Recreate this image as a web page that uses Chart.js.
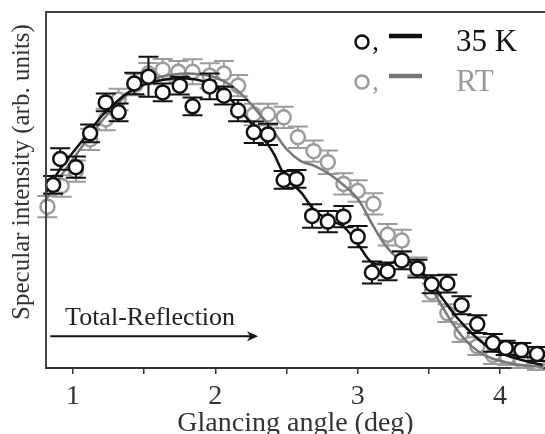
<!DOCTYPE html>
<html>
<head>
<meta charset="utf-8">
<script src="https://cdn.jsdelivr.net/npm/chart.js@4"></script>
<style>
  body { margin: 0; background: #fff; overflow: hidden; }
  #wrap { width: 545px; height: 434px; }
  canvas { display: block; }
</style>
</head>
<body>
<div id="wrap"><canvas id="chart" width="545" height="434"></canvas></div>
<script>
// measured points, 35 K
const coldAngle = [0.86, 0.91, 1.02, 1.12, 1.23, 1.32, 1.43, 1.53, 1.63, 1.75, 1.84, 1.96, 2.06, 2.16, 2.27, 2.37, 2.48,
    2.57, 2.68, 2.79, 2.90, 3.00, 3.10, 3.21, 3.31, 3.42, 3.52, 3.63, 3.73, 3.84, 3.95, 4.04, 4.15, 4.26];
const coldIntensity = [51.4, 58.7, 56.4, 65.9, 74.6, 71.8, 79.9, 81.8, 77.4, 79.3, 73.5, 79.1, 76.5, 72.3, 66.2, 65.6, 52.8,
    53.1, 42.7, 41.1, 42.5, 36.9, 26.8, 27.1, 30.2, 27.9, 23.5, 23.7, 17.6, 12.3, 7.0, 5.6, 5.0, 3.9];
const coldError = [2.5, 3, 3, 2.5, 2.5, 2.5, 3, 5.6, 2.5, 2.5, 2.5, 3.6, 2.5, 3, 3, 3, 2.5,
    2.5, 3.3, 3, 3, 3, 3.1, 2.5, 2.5, 2.5, 2.5, 2.5, 2.5, 2.5, 2.5, 2, 2, 2];

// measured points, RT
const rtAngle = [0.82, 0.92, 1.02, 1.12, 1.23, 1.32, 1.44, 1.53, 1.63, 1.74, 1.84, 1.96, 2.06, 2.16, 2.27, 2.37, 2.48,
    2.58, 2.69, 2.79, 2.90, 3.00, 3.11, 3.21, 3.31, 3.42, 3.52, 3.63, 3.73, 3.84, 3.95, 4.05, 4.15, 4.26];
const rtIntensity = [45.3, 51.1, 55.3, 64.2, 69.8, 75.4, 79.6, 82.7, 83.8, 83.2, 83.2, 82.1, 82.7, 79.3, 71.2, 71.2, 70.4,
    64.8, 60.9, 57.8, 51.7, 49.7, 46.1, 37.4, 35.8, 28.5, 21.2, 15.4, 9.8, 6.1, 3.6, 2.8, 2.0, 1.4];
const rtError = [3, 3, 3, 3, 3, 3, 3, 3, 3, 3, 3.5, 3.5, 3.5, 3, 3, 3, 3,
    3, 3, 3.3, 3, 3, 3, 3, 3, 2.5, 2.5, 2.5, 2.5, 2.5, 2.5, 2, 2, 2];

// fitted curves
const fitAngle = [0.8, 0.9, 1.0, 1.1, 1.2, 1.3, 1.4, 1.5, 1.6, 1.7, 1.8, 1.9, 2.0, 2.1, 2.2, 2.3, 2.4, 2.5,
    2.6, 2.7, 2.8, 2.9, 3.0, 3.1, 3.2, 3.3, 3.4, 3.5, 3.6, 3.7, 3.8, 3.9, 4.0, 4.1, 4.2, 4.3];
const coldFit = [48.6, 55.3, 60.6, 65.6, 70.7, 74.6, 77.7, 79.6, 80.7, 81.3, 81.3, 80.7, 79.1, 75.7, 71.2, 66.2, 60.9, 53.1,
    49.4, 44.1, 41.6, 39.7, 34.9, 29.6, 29.1, 30.2, 29.1, 24.6, 19.3, 14.0, 9.8, 6.4, 4.2, 2.8, 1.7, 0.8];
const rtFit = [46.6, 53.1, 58.7, 64.2, 69.3, 73.7, 77.4, 79.9, 81.6, 82.4, 82.7, 82.4, 81.6, 79.6, 76.3, 71.8, 67.0, 61.5,
    58.1, 56.7, 54.5, 51.4, 47.5, 40.5, 34.1, 30.2, 27.9, 23.5, 16.8, 10.6, 6.1, 3.4, 2.0, 1.1, 0.6, 0.3];

const xTickLabels = [1, 2, 3, 4];

const serif = '"Liberation Serif", "Times New Roman", serif';
const coldColor = '#111';
const rtColor = '#9c9c9c';
const rtLineColor = '#777';

function toPoints(xs, ys) {
    return xs.map((x, i) => ({ x: x, y: ys[i] }));
}

// vertical error bars, drawn just before the dataset's own markers
const errorBars = {
    id: 'errorBars',
    beforeDatasetDraw(chart, args) {
        const ds = chart.data.datasets[args.index];
        if (!ds.errors) return;
        const ctx = chart.ctx;
        const xs = chart.scales.x, ys = chart.scales.y;
        ctx.save();
        ctx.strokeStyle = ds.borderColor;
        ctx.lineWidth = 2;
        ds.data.forEach((p, i) => {
            const e = ds.errors[i];
            const px = xs.getPixelForValue(p.x);
            const top = ys.getPixelForValue(p.y + e);
            const bot = ys.getPixelForValue(p.y - e);
            ctx.beginPath();
            ctx.moveTo(px, top); ctx.lineTo(px, bot);
            ctx.moveTo(px - 10, top); ctx.lineTo(px + 10, top);
            ctx.moveTo(px - 10, bot); ctx.lineTo(px + 10, bot);
            ctx.stroke();
        });
        ctx.restore();
    }
};

// frame, y title, legend, annotation arrow
const decorations = {
    id: 'decorations',
    afterDraw(chart) {
        const ctx = chart.ctx;
        const a = chart.chartArea;
        const xs = chart.scales.x, ys = chart.scales.y;
        ctx.save();

        ctx.strokeStyle = '#444';
        ctx.lineWidth = 2;
        ctx.beginPath();
        ctx.moveTo(a.left, a.bottom);
        ctx.lineTo(a.left, a.top);
        ctx.lineTo(chart.width, a.top);
        ctx.stroke();

        ctx.fillStyle = '#333';
        ctx.font = '25px ' + serif;
        ctx.textAlign = 'center';
        ctx.textBaseline = 'middle';
        ctx.translate(22, 172);
        ctx.rotate(-Math.PI / 2);
        ctx.fillText('Specular intensity (arb. units)', 0, 0);
        ctx.setTransform(1, 0, 0, 1, 0, 0);

        // legend
        const rows = [
            { y: 42, color: coldColor, line: '#111', label: '35 K' },
            { y: 82, color: rtColor, line: rtLineColor, label: 'RT' }
        ];
        ctx.textAlign = 'left';
        ctx.textBaseline = 'alphabetic';
        rows.forEach(r => {
            ctx.strokeStyle = r.color;
            ctx.lineWidth = 2.5;
            ctx.beginPath();
            ctx.arc(362, r.y, 6.5, 0, Math.PI * 2);
            ctx.stroke();
            ctx.fillStyle = r.color;
            ctx.font = '28px ' + serif;
            ctx.fillText(',', 372, r.y + 8);
            ctx.strokeStyle = r.line;
            ctx.lineWidth = 4.5;
            ctx.beginPath();
            ctx.moveTo(389, r.y - 6);
            ctx.lineTo(422, r.y - 6);
            ctx.stroke();
            ctx.fillStyle = r.color;
            ctx.font = '31px ' + serif;
            ctx.fillText(r.label, 456, r.y + 9);
        });

        // total reflection arrow
        const x0 = xs.getPixelForValue(0.84), x1 = xs.getPixelForValue(2.30);
        const yA = ys.getPixelForValue(8.9);
        ctx.strokeStyle = '#111';
        ctx.fillStyle = '#111';
        ctx.lineWidth = 2;
        ctx.beginPath();
        ctx.moveTo(x0, yA); ctx.lineTo(x1 - 6, yA);
        ctx.stroke();
        ctx.beginPath();
        ctx.moveTo(x1, yA);
        ctx.lineTo(x1 - 11, yA - 5);
        ctx.lineTo(x1 - 8, yA);
        ctx.lineTo(x1 - 11, yA + 5);
        ctx.closePath();
        ctx.fill();
        ctx.font = '26px ' + serif;
        ctx.fillStyle = '#222';
        ctx.fillText('Total-Reflection', xs.getPixelForValue(0.944), ys.getPixelForValue(12));

        ctx.restore();
    }
};

const ctx = document.getElementById('chart').getContext('2d');
new Chart(ctx, {
    type: 'scatter',
    data: {
        datasets: [
            {
                label: 'RT',
                data: toPoints(rtAngle, rtIntensity),
                errors: rtError,
                borderColor: rtColor,
                backgroundColor: '#fff',
                pointRadius: 7,
                pointBorderWidth: 2.5,
                showLine: false,
                order: 4
            },
            {
                label: 'RT fit',
                data: toPoints(fitAngle, rtFit),
                borderColor: rtLineColor,
                borderWidth: 2.5,
                pointRadius: 0,
                showLine: true,
                tension: 0.35,
                order: 3
            },
            {
                label: '35 K fit',
                data: toPoints(fitAngle, coldFit),
                borderColor: '#111',
                borderWidth: 2.5,
                pointRadius: 0,
                showLine: true,
                tension: 0.35,
                order: 2
            },
            {
                label: '35 K',
                data: toPoints(coldAngle, coldIntensity),
                errors: coldError,
                borderColor: coldColor,
                backgroundColor: '#fff',
                pointRadius: 7,
                pointBorderWidth: 2.5,
                showLine: false,
                order: 1
            }
        ]
    },
    options: {
        responsive: false,
        animation: false,
        clip: false,
        layout: { autoPadding: false, padding: { left: 46, top: 12, right: 0, bottom: 0 } },
        plugins: {
            legend: { display: false },
            tooltip: { enabled: false }
        },
        scales: {
            x: {
                type: 'linear',
                min: 0.81,
                max: 4.316,
                border: { display: true, color: '#333', width: 2 },
                grid: { display: true, drawOnChartArea: false, drawTicks: true, tickLength: 6, color: '#333', lineWidth: 1.5 },
                ticks: {
                    stepSize: 0.5,
                    includeBounds: false,
                    autoSkip: false,
                    maxRotation: 0,
                    padding: 9,
                    color: '#333',
                    font: { family: serif, size: 28, lineHeight: 1 },
                    callback: v => xTickLabels.includes(v) ? String(v) : ''
                },
                title: {
                    display: true,
                    text: 'Glancing angle (deg)',
                    color: '#333',
                    font: { family: serif, size: 28, lineHeight: 0.29 },
                    padding: { top: 0, bottom: 6 }
                }
            },
            y: {
                display: false,
                min: 0,
                max: 100
            }
        }
    },
    plugins: [errorBars, decorations]
});
</script>
</body>
</html>
